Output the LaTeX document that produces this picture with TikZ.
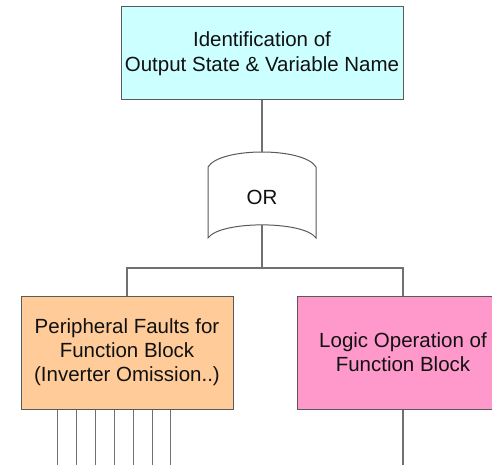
\documentclass[tikz,border=0pt]{standalone}
\usepackage{fontspec}
\setmainfont{Liberation Sans}
\begin{document}
\begin{tikzpicture}[x=1pt,y=-1pt,
  box/.style={draw=boxline, line width=1pt, inner sep=0pt, align=center,
    text=textcol, font=\fontsize{20.5}{24}\selectfont},
  wire/.style={draw=wirecol, line width=1.1pt}]
\definecolor{boxline}{HTML}{5A5A5A}
\definecolor{wirecol}{HTML}{707070}
\definecolor{textcol}{HTML}{111111}
\definecolor{cyanfill}{HTML}{CCFFFF}
\definecolor{orangefill}{HTML}{FFCC99}
\definecolor{pinkfill}{HTML}{FF99CC}
\useasboundingbox (0,0) rectangle (492,465);
\clip (0,0) rectangle (492,465);
\fill[white] (0,0) rectangle (492,465);
% top box
\node[box, fill=cyanfill, minimum width=282pt, minimum height=93pt,
  font=\fontsize{20.5}{25}\selectfont] (top) at (262,53.5)
  {Identification of\\Output State \& Variable Name};
% OR gate
\draw[draw=boxline, line width=1pt, fill=white]
  (208,167) .. controls (220,147) and (304,147) .. (316,167)
  -- (316,238) .. controls (304,220.5) and (220,220.5) .. (208,238) -- cycle;
\node[text=textcol, font=\fontsize{20.5}{24}\selectfont, inner sep=0pt] (or) at (262,197) {OR};
\coordinate (ortop) at (262,152);
\coordinate (orbot) at (262,225);
\coordinate (j) at (262,268);
% lower boxes
\node[box, fill=orangefill, minimum width=212pt, minimum height=113pt] (pf) at (127,352.5)
  {Peripheral Faults for\\Function Block\\(Inverter Omission..)};
\node[box, fill=pinkfill, minimum width=212pt, minimum height=113pt] (lo) at (403,352.5)
  {Logic Operation of\\Function Block};
% connectors
\draw[wire] (top.south) -- (ortop);
\draw[wire] (orbot) -- (j);
\draw[wire] (pf.north) |- (j) -| (lo.north);
\foreach \dx in {-69.7,-50.3,-31.3,-12.7,6.7,25.7,43.3}{
  \draw[wire] ([xshift=\dx pt]pf.south) -- ++(0,56);
}
\draw[wire] (lo.south) -- ++(0,56);
\end{tikzpicture}
\end{document}
